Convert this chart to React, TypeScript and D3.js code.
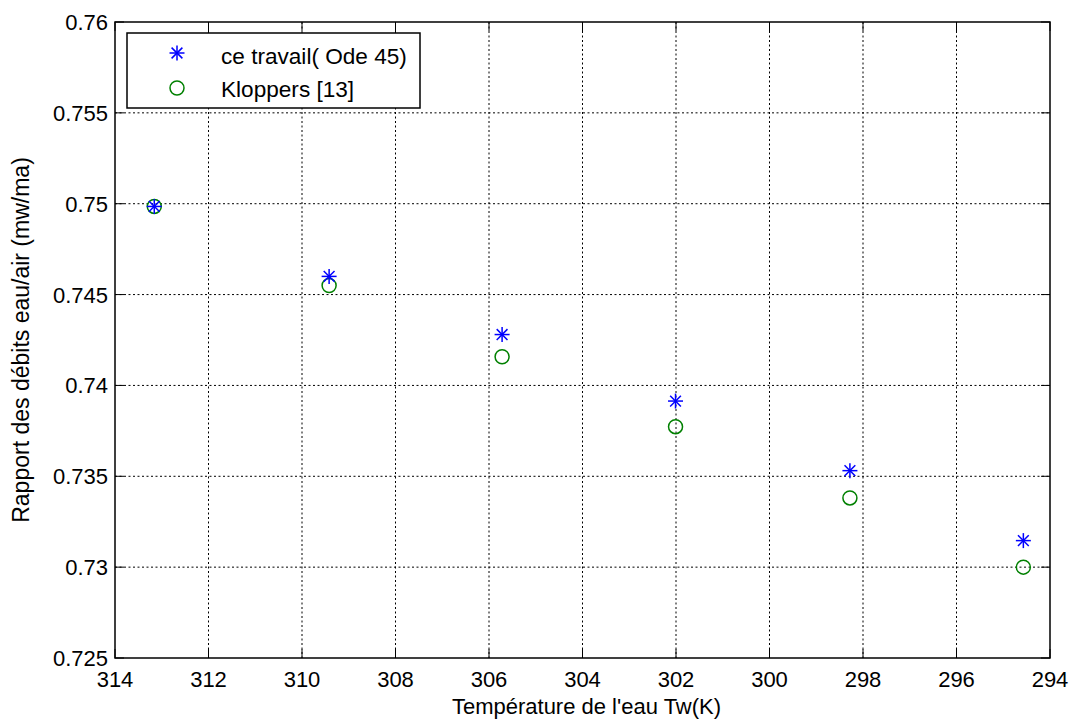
import React from "react";
import * as d3 from "d3";

const temps = [313.16, 309.42, 305.72, 302.01, 298.28, 294.57];
const ceTravail = [0.74985, 0.7460, 0.7428, 0.73914, 0.73531, 0.73146];
const kloppers = [0.74985, 0.7455, 0.74158, 0.73773, 0.73381, 0.7300];
const xTicks = [314, 312, 310, 308, 306, 304, 302, 300, 298, 296, 294];
const yTicks = [0.725, 0.73, 0.735, 0.74, 0.745, 0.75, 0.755, 0.76];
const legendLabels = ["ce travail( Ode 45)", "Kloppers [13]"];

const W = 1070, H = 722;
const L = 115, R = 1050, T = 22, B = 658;
const FONT = "'Liberation Sans', Arial, sans-serif";
const FS = 22;

function Star({ x, y, s = 7.5 }: { x: number; y: number; s?: number }) {
  const d = s * 0.72;
  return (
    <g stroke="#0000ff" strokeWidth={1.5}>
      <line x1={x - s} y1={y} x2={x + s} y2={y} />
      <line x1={x} y1={y - s} x2={x} y2={y + s} />
      <line x1={x - d} y1={y - d} x2={x + d} y2={y + d} />
      <line x1={x - d} y1={y + d} x2={x + d} y2={y - d} />
    </g>
  );
}

export default function App() {
  const x = d3.scaleLinear().domain([314, 294]).range([L, R]);
  const y = d3.scaleLinear().domain([0.725, 0.76]).range([B, T]);
  const tl = 9;
  return (
    <svg width={W} height={H} style={{ position: "absolute", left: 0, top: 0, background: "#fff" }} fontFamily={FONT}>
      <rect x={0} y={0} width={W} height={H} fill="#fff" />
      {/* grid */}
      <g stroke="#000" strokeWidth={1} strokeDasharray="2,2.5">
        {xTicks.slice(1, -1).map((t) => (
          <line key={"gx" + t} x1={x(t)} x2={x(t)} y1={T} y2={B} />
        ))}
        {yTicks.slice(1, -1).map((t) => (
          <line key={"gy" + t} x1={L} x2={R} y1={y(t)} y2={y(t)} />
        ))}
      </g>
      {/* ticks */}
      <g stroke="#000" strokeWidth={1}>
        {xTicks.map((t) => (
          <g key={"tx" + t}>
            <line x1={x(t)} x2={x(t)} y1={B} y2={B - tl} />
            <line x1={x(t)} x2={x(t)} y1={T} y2={T + tl} />
          </g>
        ))}
        {yTicks.map((t) => (
          <g key={"ty" + t}>
            <line x1={L} x2={L + tl} y1={y(t)} y2={y(t)} />
            <line x1={R} x2={R - tl} y1={y(t)} y2={y(t)} />
          </g>
        ))}
      </g>
      <rect x={L} y={T} width={R - L} height={B - T} fill="none" stroke="#000" strokeWidth={1.5} />
      {/* tick labels */}
      <g fontSize={FS} fill="#000">
        {xTicks.map((t) => (
          <text key={"lx" + t} x={x(t)} y={B + 29} textAnchor="middle">{t}</text>
        ))}
        {yTicks.map((t) => (
          <text key={"ly" + t} x={L - 7} y={y(t) + 8} textAnchor="end">{String(t)}</text>
        ))}
      </g>
      <text x={(L + R) / 2 + 4} y={B + 56} textAnchor="middle" fontSize={FS}>Température de l'eau Tw(K)</text>
      <text transform={`translate(29,${(T + B) / 2}) rotate(-90)`} textAnchor="middle" fontSize={23}>Rapport des débits eau/air (mw/ma)</text>
      {/* data */}
      {temps.map((t, i) => (
        <circle key={"k" + i} cx={x(t)} cy={y(kloppers[i])} r={7} fill="none" stroke="#008000" strokeWidth={1.5} />
      ))}
      {temps.map((t, i) => (
        <Star key={"s" + i} x={x(t)} y={y(ceTravail[i])} />
      ))}
      {/* legend */}
      <rect x={127} y={33} width={293} height={75} fill="#fff" stroke="#000" strokeWidth={1.5} />
      <Star x={177} y={53} />
      <circle cx={177} cy={88} r={7} fill="none" stroke="#008000" strokeWidth={1.5} />
      <text x={221} y={64} fontSize={22.6}>{legendLabels[0]}</text>
      <text x={221} y={97} fontSize={22.6}>{legendLabels[1]}</text>
    </svg>
  );
}
